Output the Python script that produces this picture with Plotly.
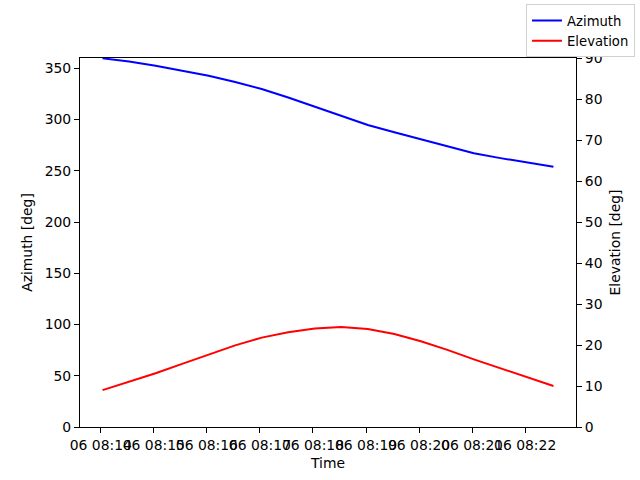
import pandas as pd
import plotly.graph_objects as go

# pasada del satélite, una muestra cada 30 s
tiempos = pd.date_range("2024-01-06 08:14:02", periods=18, freq="30s")

azimut = [359.7, 356.5, 352.5, 347.8, 342.7, 336.5, 329.8, 321.5, 312.5,
          303.5, 294.6, 287.5, 280.6, 274.0, 267.0, 262.3, 258.2, 254.0]

elevacion = [9.0, 11.1, 13.1, 15.4, 17.7, 19.9, 21.8, 23.1, 24.0,
             24.4, 23.9, 22.7, 20.9, 18.8, 16.5, 14.3, 12.2, 10.0]

ticks_x = pd.date_range("2024-01-06 08:14:00", periods=9, freq="1min")

FUENTE = dict(family="DejaVu Sans", size=13.9, color="black")

fig = go.Figure()

fig.add_trace(go.Scatter(
    x=tiempos, y=azimut, name="Azimuth", mode="lines",
    line=dict(color="#0000ff", width=2)
))

fig.add_trace(go.Scatter(
    x=tiempos, y=elevacion, name="Elevation", mode="lines",
    line=dict(color="#ff0000", width=2), yaxis="y2"
))

fig.update_layout(
    width=640, height=480,
    margin=dict(l=80, r=64, t=58, b=53, autoexpand=False),
    plot_bgcolor="white", paper_bgcolor="white",
    font=FUENTE,
    xaxis=dict(
        range=["2024-01-06 08:13:36.5", "2024-01-06 08:22:57.5"],
        tickvals=list(ticks_x), tickformat="%d %H:%M", tickangle=0,
        showgrid=False, zeroline=False, automargin=False,
        showline=True, linecolor="black", linewidth=1.1, mirror=True,
        ticks="outside", ticklen=5, tickwidth=1.1, tickcolor="black",
        title=dict(text="Time", standoff=6, font=FUENTE),
    ),
    yaxis=dict(
        range=[0, 360], tickvals=list(range(0, 351, 50)),
        showgrid=False, zeroline=False, automargin=False,
        showline=True, linecolor="black", linewidth=1.1,
        ticks="outside", ticklen=5, tickwidth=1.1, tickcolor="black",
        title=dict(text="Azimuth [deg]", standoff=8, font=FUENTE),
    ),
    yaxis2=dict(
        range=[0, 90], tickvals=list(range(0, 91, 10)),
        overlaying="y", side="right",
        showgrid=False, zeroline=False, automargin=False,
        showline=True, linecolor="black", linewidth=1.1,
        ticks="outside", ticklen=5, tickwidth=1.1, tickcolor="black",
        title=dict(text="Elevation [deg]", standoff=8, font=FUENTE),
    ),
    legend=dict(
        x=1.119, y=1.145, xanchor="right", yanchor="top",
        bgcolor="white", bordercolor="#d0d0d0", borderwidth=1,
        font=dict(family="DejaVu Sans", size=13.2, color="black"),
        tracegroupgap=0,
    ),
    showlegend=True,
)

# sin el margen de 8px del body
fig.write_html("out.html", config={"displayModeBar": False},
               post_script="document.body.style.margin='0';")
